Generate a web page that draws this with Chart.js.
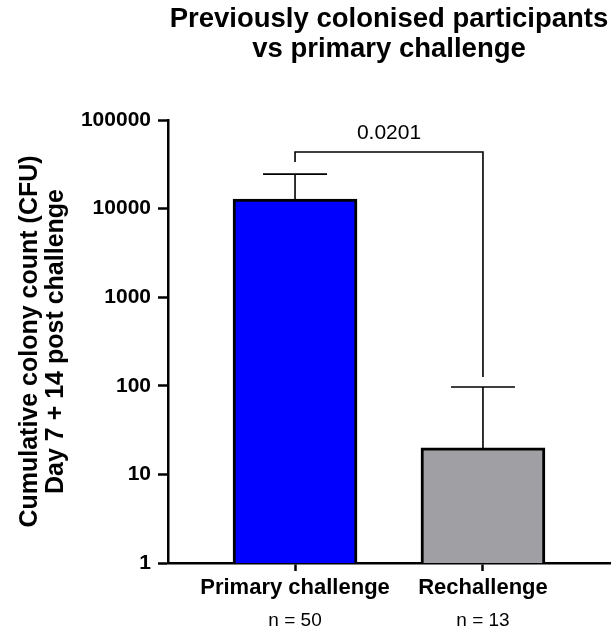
<!doctype html>
<html>
<head>
  <title>Previously colonised participants vs primary challenge</title>
  <script src="https://cdn.jsdelivr.net/npm/chart.js"></script>
  <style>
    body { margin: 0; background: #fff; }
  </style>
</head>
<body>
<canvas id="chart" width="611" height="633"></canvas>
<script>
    const categories = ['Primary challenge', 'Rechallenge'];
    const nLabels = ['n = 50', 'n = 13'];
    const means = [12800, 19.9];
    const upperErrors = [24500, 97];
    const barColors = ['#0000ff', '#a0a0a4'];
    const yTicks = [1, 10, 100, 1000, 10000, 100000];
    // bracket: left leg bottom, top, right leg bottom
    const bracket = [33600, 43500, 126];
    const pValue = '0.0201';

    const FONT = '"Liberation Sans", Arial, sans-serif';
    Chart.defaults.color = '#000';
    Chart.defaults.font.family = FONT;

    const extras = {
        id: 'extras',
        afterDatasetsDraw(chart) {
            const ctx = chart.ctx;
            const x = chart.scales.x, y = chart.scales.y;
            ctx.save();
            ctx.strokeStyle = '#000';
            ctx.lineWidth = 1.6;
            // error bars (upper only)
            means.forEach((m, i) => {
                const px = x.getPixelForValue(i);
                const top = y.getPixelForValue(upperErrors[i]);
                ctx.beginPath();
                ctx.moveTo(px, y.getPixelForValue(m));
                ctx.lineTo(px, top);
                ctx.moveTo(px - 32, top);
                ctx.lineTo(px + 32, top);
                ctx.stroke();
            });
            // significance bracket
            const x0 = x.getPixelForValue(0), x1 = x.getPixelForValue(1);
            const yt = y.getPixelForValue(bracket[1]);
            ctx.beginPath();
            ctx.moveTo(x0, y.getPixelForValue(bracket[0]));
            ctx.lineTo(x0, yt);
            ctx.lineTo(x1, yt);
            ctx.lineTo(x1, y.getPixelForValue(bracket[2]));
            ctx.stroke();
            ctx.fillStyle = '#000';
            ctx.font = '21px ' + FONT;
            ctx.textAlign = 'center';
            ctx.textBaseline = 'middle';
            ctx.fillText(pValue, (x0 + x1) / 2, yt - 19);
            // n labels under categories
            ctx.font = '19px ' + FONT;
            nLabels.forEach((t, i) => {
                ctx.fillText(t, x.getPixelForValue(i), 621);
            });
            ctx.restore();
        }
    };

    const ctx = document.getElementById('chart').getContext('2d');
    const chart = new Chart(ctx, {
        type: 'bar',
        data: {
            datasets: [{
                data: categories.map((c, i) => ({ x: i, y: means[i] })),
                backgroundColor: barColors,
                borderColor: '#000',
                borderWidth: 3,
                barThickness: 124
            }]
        },
        options: {
            responsive: false,
            animation: false,
            layout: { padding: { left: 0, right: 1, top: 0, bottom: 0 } },
            plugins: {
                legend: { display: false },
                tooltip: { enabled: false },
                title: {
                    display: true,
                    fullSize: false,
                    text: ['Previously colonised participants', 'vs primary challenge'],
                    font: { size: 27.5, weight: 'bold', lineHeight: 1.1 },
                    padding: { top: 4, bottom: 55.5 }
                }
            },
            scales: {
                x: {
                    type: 'linear',
                    offset: false,
                    min: -0.676,
                    max: 1.676,
                    afterBuildTicks: s => { s.ticks = categories.map((c, i) => ({ value: i })); },
                    afterFit: s => { s.height = 70; },
                    ticks: {
                        autoSkip: false,
                        maxRotation: 0,
                        padding: 4,
                        font: { size: 22, weight: 'bold' },
                        callback: v => categories[v]
                    },
                    grid: {
                        display: true,
                        offset: false,
                        drawOnChartArea: false,
                        tickLength: 8,
                        tickWidth: 2.5,
                        tickColor: '#000'
                    },
                    border: { display: true, color: '#000', width: 2.5 }
                },
                y: {
                    type: 'logarithmic',
                    min: 1,
                    max: 100000,
                    afterBuildTicks: s => { s.ticks = yTicks.map(v => ({ value: v, major: true })); },
                    afterFit: s => { s.width = 168; },
                    ticks: {
                        padding: 7,
                        font: { size: 21, weight: 'bold' },
                        callback: v => String(v)
                    },
                    grid: {
                        display: true,
                        drawOnChartArea: false,
                        tickLength: 10,
                        tickWidth: 2.5,
                        tickColor: '#000'
                    },
                    border: { display: true, color: '#000', width: 2.5 },
                    title: {
                        display: true,
                        text: ['Cumulative colony count (CFU)', 'Day 7 + 14 post challenge'],
                        font: { size: 25, weight: 'bold', lineHeight: 1.04 },
                        padding: { top: 17, bottom: 0 }
                    }
                }
            }
        },
        plugins: [extras]
    });
</script>
</body>
</html>
